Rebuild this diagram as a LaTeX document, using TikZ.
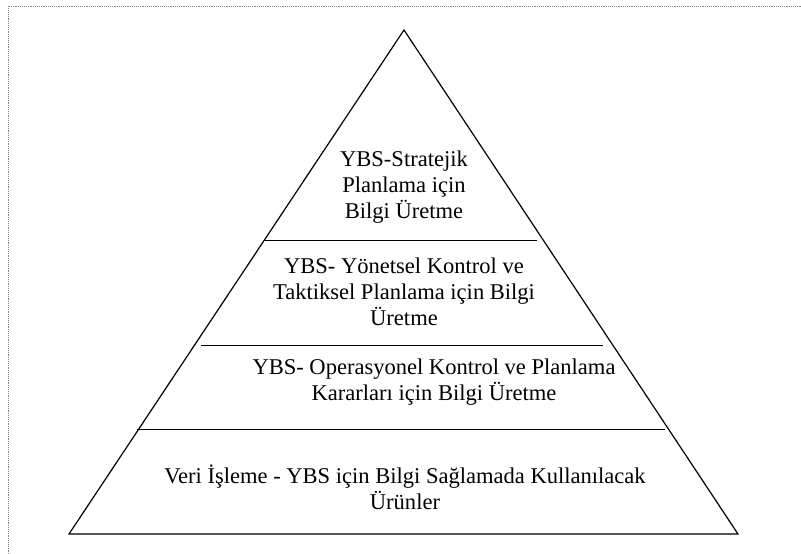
\documentclass[tikz,border=0pt]{standalone}
\usepackage{fontspec}
\setmainfont{Liberation Serif}
\usepackage{xcolor}
\usetikzlibrary{positioning}
\tikzset{layertext/.style={align=center, inner sep=0pt, font=\fontsize{16.9}{19.6}\selectfont}}

\begin{document}
\begin{tikzpicture}[x=0.75pt, y=-0.75pt]
\useasboundingbox (0,0) rectangle (801,554);
\draw[gray, densely dotted] (801,6) -- (8,6) -- (8,554);
\coordinate (top) at (404,30);
\coordinate (bl) at (69,534);
\coordinate (br) at (738,534);
\draw[line width=0.9pt] (bl) -- (top) -- (br) -- cycle;
\draw[line width=0.9pt] (265,240.5) -- (537,240.5);
\draw[line width=0.9pt] (201,345.5) -- (603,345.5);
\draw[line width=0.9pt] (137,429.5) -- (665,429.5);
\node[layertext] (strat) at (404,187) {YBS-Stratejik\\Planlama için\\Bilgi Üretme};
\node[layertext] (takt) at (404,292) {YBS- Yönetsel Kontrol ve\\Taktiksel Planlama için Bilgi\\Üretme};
\node[layertext] (oper) at (434,382.5) {YBS- Operasyonel Kontrol ve Planlama\\Kararları için Bilgi Üretme};
\node[layertext] (veri) at (405,487.5) {Veri İşleme - YBS için Bilgi Sağlamada Kullanılacak\\Ürünler};
\end{tikzpicture}
\end{document}
